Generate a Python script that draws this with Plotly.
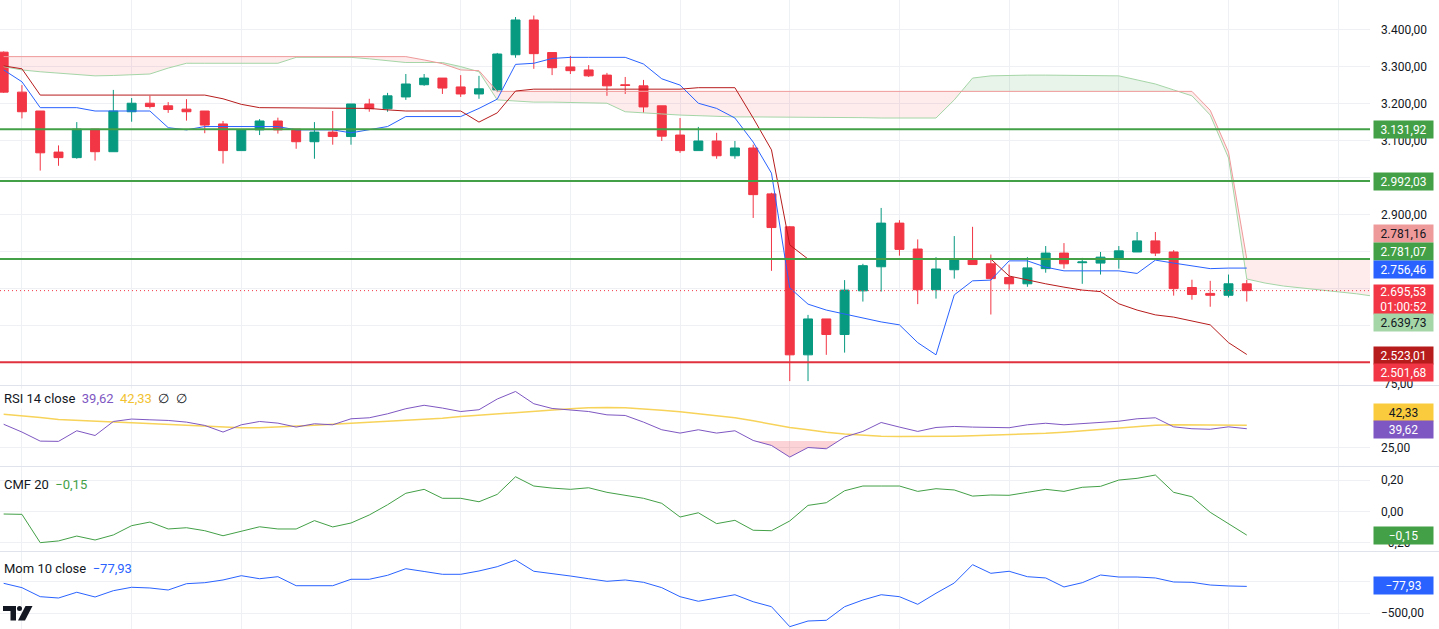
import plotly.graph_objects as go
from plotly.subplots import make_subplots

# ------------------------------------------------------------------ data
bars = list(range(69))
opens = [3340, 3232, 3181, 3070, 3055, 3132, 3071, 3179, 3202, 3195,
         3186, 3181, 3146, 3074, 3130, 3154, 3132, 3098, 3124, 3112,
         3200, 3187, 3219, 3252, 3270, 3246, 3227, 3238, 3333, 3427,
         3339, 3300, 3292, 3278, 3252, 3249, 3195, 3116, 3074, 3100,
         3060, 3081, 2957, 2868, 2522, 2619, 2577, 2695, 2760, 2878,
         2808, 2698, 2752, 2778, 2768, 2731, 2714, 2755, 2797, 2771,
         2770, 2784, 2800, 2830, 2800, 2704, 2688, 2683, 2714]
highs = [3342, 3251, 3181, 3088, 3151, 3132, 3238, 3216, 3222, 3205,
         3213, 3181, 3154, 3130, 3159, 3163, 3132, 3151, 3181, 3200,
         3214, 3230, 3281, 3281, 3270, 3278, 3276, 3338, 3435, 3439,
         3339, 3330, 3305, 3284, 3273, 3265, 3195, 3162, 3138, 3122,
         3100, 3090, 2960, 2870, 2630, 2619, 2724, 2768, 2919, 2886,
         2834, 2786, 2843, 2868, 2793, 2766, 2786, 2816, 2824, 2784,
         2800, 2816, 2854, 2854, 2805, 2725, 2722, 2739, 2725]
lows = [3230, 3161, 3020, 3033, 3052, 3047, 3071, 3152, 3188, 3176,
        3155, 3121, 3039, 3074, 3116, 3120, 3079, 3052, 3090, 3090,
        3179, 3179, 3211, 3249, 3227, 3219, 3214, 3232, 3325, 3295,
        3278, 3281, 3273, 3222, 3227, 3176, 3100, 3068, 3074, 3052,
        3052, 2892, 2749, 2451, 2451, 2522, 2528, 2666, 2693, 2790,
        2659, 2674, 2728, 2766, 2631, 2698, 2706, 2744, 2755, 2714,
        2739, 2755, 2800, 2789, 2682, 2671, 2652, 2677, 2666]
closes = [3232, 3179, 3068, 3055, 3132, 3071, 3181, 3202, 3193, 3185,
          3179, 3143, 3074, 3130, 3154, 3130, 3098, 3124, 3112, 3200,
          3187, 3222, 3254, 3270, 3243, 3227, 3241, 3335, 3427, 3336,
          3298, 3290, 3276, 3249, 3250, 3192, 3113, 3074, 3100, 3060,
          3081, 2955, 2866, 2522, 2619, 2577, 2697, 2763, 2878, 2807,
          2698, 2754, 2778, 2766, 2728, 2714, 2757, 2797, 2768, 2773,
          2786, 2803, 2830, 2797, 2701, 2685, 2683, 2714, 2695.53]

tenkan = [3292, 3260, 3190, 3190, 3190, 3181, 3181, 3181, 3181, 3136,
          3130, 3139, 3139, 3139, 3139, 3139, 3130, 3130, 3130, 3122,
          3130, 3139, 3166, 3166, 3166, 3166, 3188, 3213, 3307, 3310,
          3323, 3326, 3326, 3326, 3326, 3308, 3268, 3251, 3202, 3188,
          3162, 3097, 3013, 2703, 2659, 2643, 2632, 2622, 2611, 2603,
          2555, 2522, 2684, 2722, 2724, 2776, 2776, 2759, 2749, 2749,
          2749, 2749, 2742, 2778, 2770, 2762, 2755, 2756.46, 2756.46]
kijun = [3303, 3295, 3224, 3224, 3224, 3224, 3224, 3224, 3224, 3224,
         3224, 3224, 3214, 3199, 3190, 3190, 3190, 3190, 3190, 3190,
         3188, 3184, 3181, 3181, 3181, 3181, 3151, 3176, 3235, 3240,
         3240, 3240, 3240, 3240, 3240, 3240, 3240, 3240, 3244, 3244,
         3244, 3162, 3076, 2819, 2781, 2781, 2781, 2781, 2781, 2781,
         2781, 2781, 2781, 2781, 2781, 2735, 2724, 2714, 2705, 2697,
         2693, 2660, 2643, 2630, 2624, 2614, 2603, 2555, 2523.01]

cloud_bars = list(range(76))
span_a = [3301, 3292, 3287, 3283, 3280, 3276, 3277, 3278, 3281, 3297,
          3310, 3310, 3310, 3310, 3310, 3310, 3326, 3326, 3326, 3326,
          3322, 3316, 3312, 3312, 3312, 3301, 3287, 3211, 3208, 3205,
          3205, 3204, 3203, 3202, 3179, 3177, 3173, 3170, 3168, 3166,
          3165, 3165, 3165, 3165, 3164, 3164, 3163, 3163, 3162, 3162,
          3162, 3162, 3211, 3270, 3276, 3278, 3278, 3278, 3278, 3278,
          3278, 3276, 3265, 3254, 3238, 3222, 3170, 3054, 2727, 2716,
          2708, 2703, 2697, 2693, 2687, 2680]
span_b = [3328, 3328, 3328, 3328, 3328, 3328, 3328, 3328, 3328, 3328,
          3328, 3328, 3328, 3328, 3328, 3328, 3328, 3328, 3328, 3328,
          3328, 3328, 3328, 3319, 3309, 3292, 3290, 3234, 3234, 3234,
          3234, 3234, 3234, 3234, 3234, 3234, 3234, 3234, 3234, 3234,
          3234, 3234, 3234, 3234, 3234, 3234, 3234, 3234, 3234, 3234,
          3234, 3234, 3234, 3234, 3234, 3234, 3234, 3234, 3234, 3234,
          3234, 3234, 3234, 3234, 3234, 3234, 3183, 3070, 2781.16, 2781.16,
          2781.16, 2781.16, 2781.16, 2781.16, 2781.16, 2781.16]
span_a_final = 2639.73

rsi = [43.1, 37.0, 29.9, 29.7, 38.0, 34.3, 45.3, 47.2, 46.6, 46.1,
       44.8, 42.2, 37.0, 42.7, 45.3, 44.0, 40.9, 43.5, 42.7, 47.4,
       48.2, 51.3, 55.3, 58.0, 55.8, 53.1, 54.5, 62.9, 68.8, 59.2,
       55.5, 54.5, 53.1, 50.5, 50.0, 44.8, 38.8, 36.2, 38.8, 36.2,
       38.0, 30.4, 26.5, 17.4, 24.9, 23.9, 33.1, 37.5, 44.5, 40.9,
       37.5, 40.6, 41.4, 40.9, 40.7, 40.4, 42.7, 43.9, 42.7, 43.5,
       44.7, 45.5, 47.4, 48.2, 41.1, 39.6, 39.2, 41.1, 39.62]
rsi_ma = [51.0, 49.8, 48.4, 46.8, 46.0, 45.4, 44.9, 44.2, 43.6, 43.0,
          42.4, 41.7, 40.9, 40.3, 40.4, 40.9, 41.6, 42.4, 43.2, 44.0,
          44.8, 45.6, 46.3, 47.0, 47.8, 49.2, 50.2, 51.3, 52.7, 53.7,
          54.5, 55.3, 56.0, 56.3, 56.0, 55.3, 54.1, 52.9, 51.3, 49.8,
          48.2, 45.8, 43.1, 40.6, 38.8, 36.8, 35.4, 34.5, 33.7, 33.5,
          33.5, 33.7, 33.8, 34.1, 34.5, 34.9, 35.3, 36.0, 36.8, 38.0,
          38.8, 40.0, 41.1, 42.3, 42.7, 42.7, 42.5, 42.3, 42.33]
cmf = [-0.016, -0.018, -0.198, -0.187, -0.156, -0.181, -0.149, -0.090, -0.067, -0.111,
       -0.103, -0.122, -0.154, -0.126, -0.097, -0.111, -0.111, -0.058, -0.098, -0.073,
       -0.022, 0.043, 0.116, 0.141, 0.084, 0.084, 0.062, 0.109, 0.221, 0.162,
       0.149, 0.141, 0.151, 0.122, 0.105, 0.084, 0.052, -0.035, -0.008, -0.077,
       -0.056, -0.119, -0.122, -0.060, 0.039, 0.056, 0.132, 0.162, 0.162, 0.162,
       0.128, 0.145, 0.137, 0.098, 0.105, 0.103, 0.122, 0.141, 0.128, 0.154,
       0.160, 0.200, 0.211, 0.232, 0.122, 0.094, -0.005, -0.079, -0.15]
mom = [-29, -98, -241, -262, -171, -246, -146, -92, -103, -135,
       -35, -19, 24, 92, 44, 76, -67, -67, -67, 35,
       35, 98, 203, 159, 114, 114, 167, 235, 341, 162,
       130, 87, 44, 3, 24, -13, -98, -241, -314, -257,
       -210, -321, -400, -717, -627, -616, -400, -294, -210, -241,
       -362, -187, -24, 267, 130, 162, 76, 56, -87, -19,
       103, 71, 71, 56, -8, -13, -56, -71, -77.93]

resistance_levels = [3131.92, 2992.03, 2781.07]
support_levels = [2501.68]
rsi_levels = [70, 50, 30]
cmf_levels = [0]
price_ticks = [3400, 3300, 3200, 3100, 3000, 2900, 2800, 2700, 2600, 2500]
price_tick_text = ["3.400,00", "3.300,00", "3.200,00", "3.100,00", "3.000,00",
                   "2.900,00", "", "", "", ""]
rsi_ticks = [25]
rsi_tick_text = ["25,00"]
rsi_top_tick_text = "75,00"
cmf_ticks = [0.2, 0, -0.2]
cmf_tick_text = ["0,20", "0,00", "\u22120,20"]
mom_ticks = [0, -500]
mom_tick_text = ["0,00", "\u2212500,00"]
countdown = "01:00:52"

# ------------------------------------------------------------------ style
W, H = 1439, 629
PLOT_W = 1370
PANES = [(0, 385), (386, 466), (467, 551), (552, 629)]
X_RANGE = [-0.2, 74.74]
Y_RANGES = [[2440.5, 3481], [10.4, 73.1], [-0.251, 0.283], [-754, 468]]
UP, DOWN = "#089981", "#F23645"
GRID = "#EEF0F4"
FONT = "Roboto, 'Noto Sans', sans-serif"
TXT = "#131722"


def px_x(px):
    return px / PLOT_W


def px_y(py):
    return 1 - py / H


def eu(v, d=2):
    s = f"{abs(v):,.{d}f}".replace(",", "X").replace(".", ",").replace("X", ".")
    return ("\u2212" if v < 0 else "") + s


def regions(xs, a, b):
    """split the band between a and b into regions of constant sign of a-b"""
    out = []
    rx, ra, rb = [xs[0]], [a[0]], [b[0]]
    s_prev = 1 if a[0] >= b[0] else -1
    for k in range(1, len(xs)):
        d0 = a[k - 1] - b[k - 1]
        d1 = a[k] - b[k]
        s = 1 if d1 > 0 else (-1 if d1 < 0 else s_prev)
        if s != s_prev:
            if d0 != 0:
                t = d0 / (d0 - d1)
                xc = xs[k - 1] + t * (xs[k] - xs[k - 1])
                yc = a[k - 1] + t * (a[k] - a[k - 1])
                rx.append(xc); ra.append(yc); rb.append(yc)
            else:
                xc, yc = xs[k - 1], a[k - 1]
            out.append((rx, ra, rb, s_prev))
            rx, ra, rb = [xc], [yc], [yc]
        rx.append(xs[k]); ra.append(a[k]); rb.append(b[k])
        s_prev = s
    out.append((rx, ra, rb, s_prev))
    return out


fig = make_subplots(rows=4, cols=1, shared_xaxes=True, vertical_spacing=0)

# ---- Ichimoku cloud
for rx, ra, rb, s in regions(cloud_bars, span_a, span_b):
    fig.add_trace(go.Scatter(
        x=rx + rx[::-1], y=ra + rb[::-1], mode="lines", fill="toself",
        line=dict(width=0),
        fillcolor="rgba(67,160,71,0.12)" if s > 0 else "rgba(242,54,69,0.10)",
        hoverinfo="skip"), row=1, col=1)
fig.add_trace(go.Scatter(x=cloud_bars, y=span_a, mode="lines",
                         line=dict(color="#A5D6A7", width=1), hoverinfo="skip"), row=1, col=1)
fig.add_trace(go.Scatter(x=cloud_bars, y=span_b, mode="lines",
                         line=dict(color="#EF9A9A", width=1), hoverinfo="skip"), row=1, col=1)

# ---- candles
fig.add_trace(go.Candlestick(
    x=bars, open=opens, high=highs, low=lows, close=closes,
    increasing=dict(line=dict(color=UP, width=1), fillcolor=UP),
    decreasing=dict(line=dict(color=DOWN, width=1), fillcolor=DOWN),
    whiskerwidth=0, hoverinfo="skip"), row=1, col=1)

fig.add_trace(go.Scatter(x=bars, y=tenkan, mode="lines",
                         line=dict(color="#2962FF", width=1), hoverinfo="skip"), row=1, col=1)
fig.add_trace(go.Scatter(x=bars, y=kijun, mode="lines",
                         line=dict(color="#B71C1C", width=1), hoverinfo="skip"), row=1, col=1)

# ---- horizontal levels
for lvl in resistance_levels:
    fig.add_hline(y=lvl, row=1, col=1, line=dict(color="#43A047", width=2))
for lvl in support_levels:
    fig.add_hline(y=lvl, row=1, col=1, line=dict(color="#E0313F", width=2))
fig.add_hline(y=closes[-1], row=1, col=1, line=dict(color=DOWN, width=1, dash="1px,3px"))

# ---- RSI pane
fig.add_hrect(y0=rsi_levels[2], y1=rsi_levels[0], row=2, col=1,
              fillcolor="rgba(126,87,194,0.10)", line_width=0, layer="below")
for lvl in rsi_levels:
    fig.add_hline(y=lvl, row=2, col=1, line=dict(color="#787B86", width=1, dash="5px,4px"))
for rx, ra, rb, s in regions(bars, rsi, [rsi_levels[2]] * len(bars)):
    if s < 0:
        fig.add_trace(go.Scatter(x=rx + rx[::-1], y=ra + rb[::-1], mode="lines",
                                 fill="toself", line=dict(width=0),
                                 fillcolor="rgba(242,54,69,0.22)", hoverinfo="skip"),
                      row=2, col=1)
fig.add_trace(go.Scatter(x=bars, y=rsi_ma, mode="lines",
                         line=dict(color="#F7D35A", width=1.5), hoverinfo="skip"), row=2, col=1)
fig.add_trace(go.Scatter(x=bars, y=rsi, mode="lines",
                         line=dict(color="#7E57C2", width=1), hoverinfo="skip"), row=2, col=1)

# ---- CMF pane
for lvl in cmf_levels:
    fig.add_hline(y=lvl, row=3, col=1, line=dict(color="#787B86", width=1, dash="5px,4px"))
fig.add_trace(go.Scatter(x=bars, y=cmf, mode="lines",
                         line=dict(color="#43A047", width=1), hoverinfo="skip"), row=3, col=1)

# ---- Momentum pane
fig.add_trace(go.Scatter(x=bars, y=mom, mode="lines",
                         line=dict(color="#2962FF", width=1), hoverinfo="skip"), row=4, col=1)

# ---- axes
for r in range(1, 5):
    fig.update_xaxes(row=r, col=1, range=X_RANGE, showgrid=True, gridcolor=GRID,
                     tick0=1, dtick=6, showticklabels=False, zeroline=False,
                     showline=False, ticks="", rangeslider=dict(visible=False))
axis_ticks = [(price_ticks, price_tick_text), (rsi_ticks, rsi_tick_text),
              (cmf_ticks, cmf_tick_text), (mom_ticks, mom_tick_text)]
for r, ((top, bot), rng, (tv, tt)) in enumerate(zip(PANES, Y_RANGES, axis_ticks), start=1):
    fig.update_yaxes(row=r, col=1, domain=[1 - bot / H, 1 - top / H], range=rng,
                     side="right", tickmode="array", tickvals=tv, ticktext=tt,
                     showgrid=True, gridcolor=GRID, zeroline=False, showline=False,
                     ticks="", ticklabelstandoff=10,
                     tickfont=dict(family=FONT, size=12, color=TXT))

fig.update_layout(width=W, height=H, margin=dict(l=0, r=W - PLOT_W, t=0, b=0),
                  paper_bgcolor="white", plot_bgcolor="white", showlegend=False,
                  separators=",.", font=dict(family=FONT, size=12, color=TXT))

# ---- pane separators
for y_sep in (385.5, 466.5, 551.5):
    fig.add_shape(type="line", xref="paper", yref="paper", x0=0, x1=W / PLOT_W,
                  y0=px_y(y_sep), y1=px_y(y_sep), line=dict(color="#E0E3EB", width=1))

# ---- right-hand value labels
fig.add_annotation(xref="paper", yref="paper", x=px_x(1382), y=px_y(383.5),
                   xanchor="left", yanchor="middle", showarrow=False,
                   text=rsi_top_tick_text, font=dict(family=FONT, size=12, color=TXT))
labels = [
    (eu(resistance_levels[0]), "#43A047", "white", 129.5, 1),
    (eu(resistance_levels[1]), "#43A047", "white", 181.5, 1),
    (eu(span_b[-1]), "#EF9A9A", TXT, 233.5, 1),
    (eu(resistance_levels[2]), "#43A047", "white", 251.5, 1),
    (eu(tenkan[-1]), "#2962FF", "white", 269.0, 1),
    (eu(closes[-1]) + "<br>" + countdown, "#F23645", "white", 299.0, 2),
    (eu(span_a_final), "#A5D6A7", TXT, 322.5, 1),
    (eu(kijun[-1]), "#B71C1C", "white", 355.0, 1),
    (eu(support_levels[0]), "#F23645", "white", 372.5, 1),
    (eu(rsi_ma[-1]), "#F9CB3D", TXT, 412.3, 1),
    (eu(rsi[-1]), "#7E57C2", "white", 429.0, 1),
    (eu(cmf[-1]), "#43A047", "white", 535.0, 1),
    (eu(mom[-1]), "#2962FF", "white", 585.7, 1),
]
for text, bg, fg, yc, lines in labels:
    fig.add_annotation(xref="paper", yref="paper", x=px_x(1403.5), y=px_y(yc),
                       xanchor="center", yanchor="middle", showarrow=False,
                       text=text, bgcolor=bg, borderpad=1, width=57,
                       height=15 if lines == 1 else 27, align="center",
                       font=dict(family=FONT, size=12, color=fg))

# ---- pane legends
sp = "&nbsp;&nbsp;"
legends = [
    ("RSI 14 close" + sp + f"<span style='color:#7E57C2'>{eu(rsi[-1])}</span>" + sp +
     f"<span style='color:#F2C230'>{eu(rsi_ma[-1])}</span>" + sp + "\u2205" + sp + "\u2205",
     398.5, "rgba(255,255,255,0.65)"),
    ("CMF 20" + sp + f"<span style='color:#43A047'>{eu(cmf[-1])}</span>", 484.0, "rgba(0,0,0,0)"),
    ("Mom 10 close" + sp + f"<span style='color:#2962FF'>{eu(mom[-1])}</span>", 568.5, "rgba(0,0,0,0)"),
]
for text, yc, bg in legends:
    fig.add_annotation(xref="paper", yref="paper", x=px_x(0.5), y=px_y(yc),
                       xanchor="left", yanchor="middle", showarrow=False, text=text,
                       bgcolor=bg, borderpad=2, font=dict(family=FONT, size=13, color=TXT))


# ---- TradingView logo (decoration)
def path(points):
    return "M " + " L ".join(f"{px_x(x):.5f},{px_y(y):.5f}" for x, y in points) + " Z"


fig.add_shape(type="path", xref="paper", yref="paper",
              path=path([(3, 606), (16, 606), (16, 620.5), (10.5, 620.5), (10.5, 611), (3, 611)]),
              fillcolor="#131722", line=dict(width=0))
fig.add_shape(type="circle", xref="paper", yref="paper",
              x0=px_x(17), x1=px_x(22), y0=px_y(611), y1=px_y(606),
              fillcolor="#131722", line=dict(width=0))
fig.add_shape(type="path", xref="paper", yref="paper",
              path=path([(25.5, 606), (32.5, 606), (25, 620.5), (18, 620.5)]),
              fillcolor="#131722", line=dict(width=0))

fig.write_html("out.html", config={"displayModeBar": False},
               post_script="document.body.style.margin='0';")
